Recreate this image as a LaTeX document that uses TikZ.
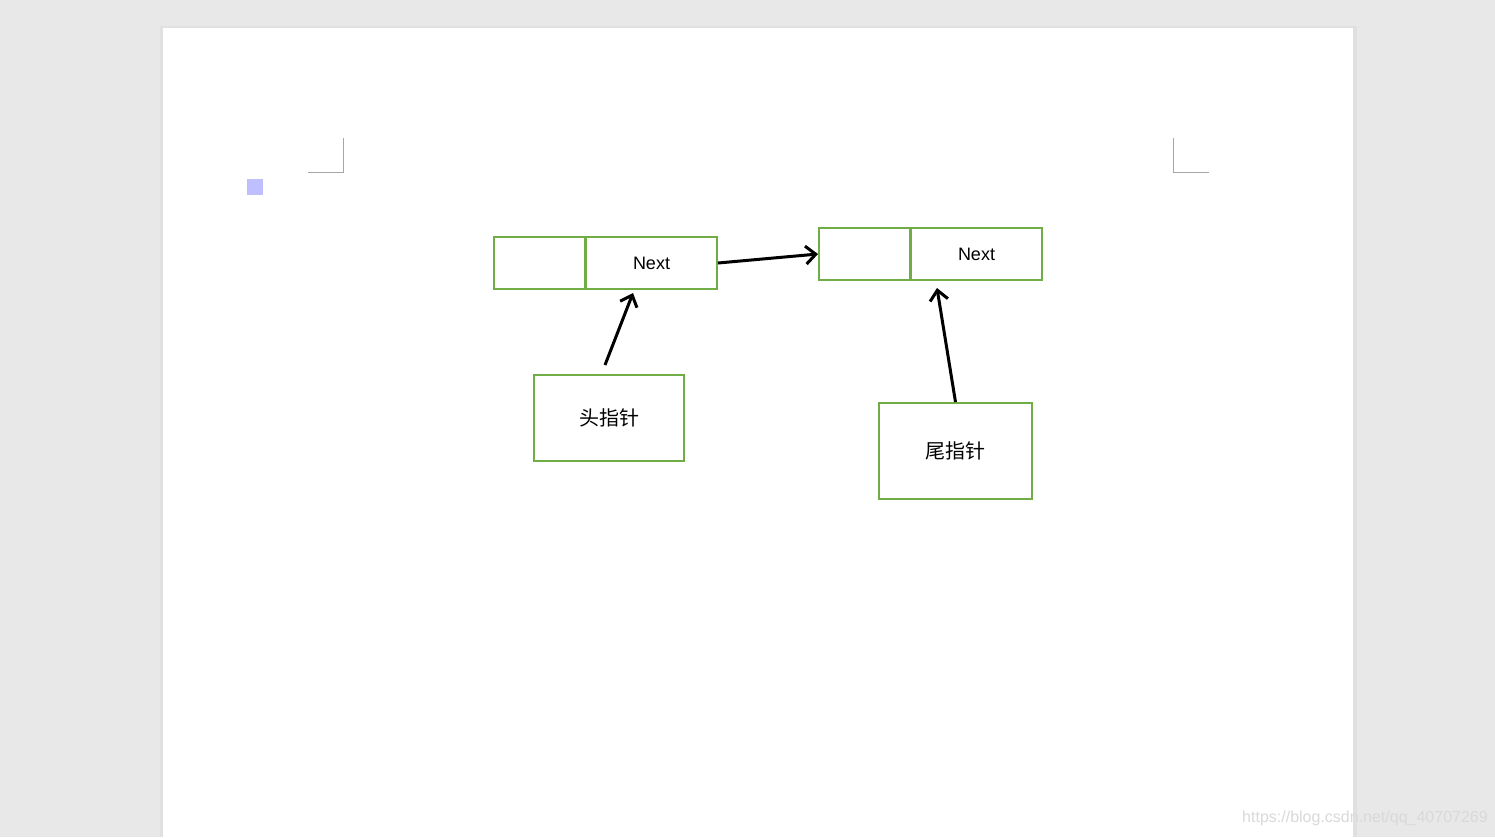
\documentclass[tikz,border=0pt]{standalone}
\usepackage{fontspec}
\setsansfont{Liberation Sans}
\newfontfamily\cjk{Noto Sans CJK SC}
\usetikzlibrary{arrows.meta}
\definecolor{gr}{HTML}{70AD47}
\definecolor{bg}{HTML}{E8E8E8}
\tikzset{cell/.style={draw=gr,line width=1pt,minimum height=26pt,inner sep=0pt,anchor=north west},
 arr/.style={line width=1.5pt,-{Straight Barb[length=5pt,width=9pt]}},
 cornermark/.style={draw=black!35,line width=0.5pt}}
\begin{document}
\begin{tikzpicture}[x=0.5pt,y=-0.5pt]
\useasboundingbox (0,0) rectangle (1495,837);
\fill[bg] (0,0) rectangle (1495,837);
\fill[black!12] (160,26) rectangle (1357,837);
\fill[white] (163,28) rectangle (1353,837);
\draw[cornermark] (343,138) -- (343,172) -- (308,172);
\draw[cornermark] (1173,138) -- (1173,172) -- (1209,172);
\node[fill=blue!25,minimum width=8pt,minimum height=8pt,inner sep=0pt] (icon) at (255,187) {};
\node[cell,minimum width=45.5pt] (a1) at (493,236) {};
\node[cell,minimum width=65.5pt,font=\sffamily\fontsize{9}{10}\selectfont] (a2) at (585,236) {Next};
\node[cell,minimum width=45.5pt] (b1) at (818,227) {};
\node[cell,minimum width=65.5pt,font=\sffamily\fontsize{9}{10}\selectfont] (b2) at (910,227) {Next};
\node[cell,minimum width=75pt,minimum height=43pt,font=\cjk\fontsize{10}{12}\selectfont] (head) at (533,374) {头指针};
\node[cell,minimum width=76.5pt,minimum height=48pt,font=\cjk\fontsize{10}{12}\selectfont] (tail) at (878,402) {尾指针};
\coordinate (hs) at (605,365);
\coordinate (he) at (633,293);
\coordinate (te) at (937,288);
\draw[arr] (a2.east) -- (b1.west);
\draw[arr] (hs) -- (he);
\draw[arr] (tail.north) -- (te);
\node[text=black!15,font=\sffamily\fontsize{8}{9}\selectfont] (wm) at (1365,818) {https://blog.csdn.net/qq\_40707269};
\end{tikzpicture}
\end{document}
